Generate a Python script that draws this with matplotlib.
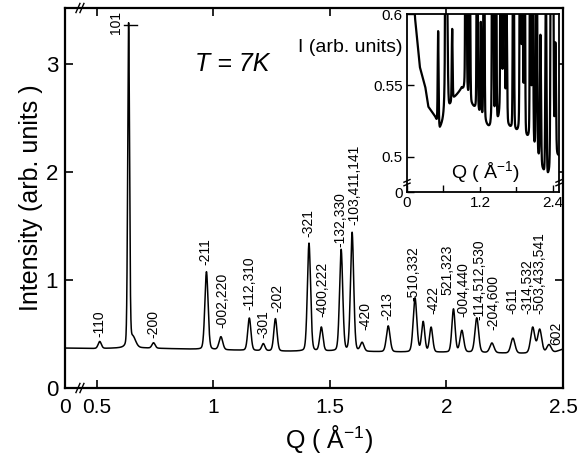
import numpy as np
import matplotlib
matplotlib.use("Agg")
import matplotlib.pyplot as plt

plt.rcParams['font.family'] = ['Liberation Sans', 'DejaVu Sans']
plt.rcParams['mathtext.fontset'] = 'custom'
plt.rcParams['mathtext.rm'] = 'Liberation Sans'

# baseline of the main pattern (Q in 1/A, intensity)
base_q = [0.36, 0.50, 0.62, 0.70, 0.90, 1.10, 1.30, 1.50, 1.70, 1.90, 2.10, 2.30, 2.45, 2.50]
base_i = [0.37, 0.365, 0.37, 0.37, 0.36, 0.35, 0.34, 0.34, 0.335, 0.33, 0.33, 0.32, 0.32, 0.36]

# Bragg peaks: position, height above baseline, width
peak_q = [0.512, 0.636, 0.655, 0.743, 0.970, 1.032, 1.154, 1.214, 1.266, 1.410, 1.463,
          1.548, 1.595, 1.638, 1.750, 1.865, 1.900, 1.934, 2.030, 2.066, 2.130, 2.195,
          2.285, 2.370, 2.400, 2.440]
peak_h = [0.065, 2.99, 0.09, 0.05, 0.72, 0.12, 0.30, 0.065, 0.30, 1.00, 0.22,
          0.94, 1.10, 0.08, 0.24, 0.50, 0.28, 0.23, 0.40, 0.20, 0.32, 0.09,
          0.14, 0.24, 0.22, 0.08]
peak_w = [0.007, 0.004, 0.012, 0.007, 0.007, 0.008, 0.007, 0.007, 0.007, 0.007, 0.007,
          0.007, 0.007, 0.008, 0.008, 0.008, 0.007, 0.007, 0.007, 0.008, 0.008, 0.009,
          0.009, 0.009, 0.009, 0.010]

# reflection labels (text, Q, intensity where the label starts)
lab_txt = ['-110', '-200', '-211', '-002,220', '-112,310', '-301', '-202', '-321',
           '-400,222', '-132,330', '-103,411,141', '-420', '-213', '-510,332', '-422',
           '521,323', '-004,440', '-114,512,530', '-204,600', '-611', '-314,532',
           '-503,433,541', '602']
lab_q = [0.512, 0.743, 0.966, 1.039, 1.154, 1.214, 1.274, 1.407, 1.467, 1.544, 1.604,
         1.651, 1.745, 1.857, 1.942, 2.006, 2.071, 2.140, 2.200, 2.281, 2.345, 2.400, 2.473]
lab_i = [0.47, 0.46, 1.14, 0.56, 0.72, 0.46, 0.70, 1.40, 0.66, 1.31, 1.51,
         0.54, 0.63, 0.81, 0.69, 0.86, 0.66, 0.63, 0.54, 0.69, 0.69, 0.69, 0.40]

# background of the inset (expanded scale)
ins_q = [0.10, 0.13, 0.21, 0.30, 0.35, 0.46, 0.54, 0.65, 0.76, 0.90, 0.98, 1.15, 1.37,
         1.55, 1.75, 2.02, 2.13, 2.30, 2.40, 2.47]
ins_i = [0.62, 0.598, 0.563, 0.549, 0.535, 0.528, 0.519, 0.528, 0.540, 0.547, 0.540,
         0.531, 0.517, 0.522, 0.517, 0.510, 0.500, 0.483, 0.493, 0.500]

q0 = 0.363


def pattern(q, bq, bi):
    y = np.interp(q, bq, bi)
    for p, h, w in zip(peak_q, peak_h, peak_w):
        g = np.exp(-0.5 * ((q - p) / w)**2)
        l = w**2 / ((q - p)**2 + w**2)
        y = y + h * (0.8 * g + 0.2 * l)
    return y


fig = plt.figure(figsize=(5.82, 4.55), dpi=100)
ax = fig.add_axes([65/582, 1-388/455, 498/582, 380/455])

q = np.linspace(q0, 2.5, 6000)
ax.plot(q, pattern(q, base_q, base_i), color='black', lw=1.1)
ax.set_xlim(q0, 2.5)
ax.set_ylim(0, 3.52)

for t, x, y in zip(lab_txt, lab_q, lab_i):
    ax.text(x, y, t, rotation=90, ha='center', va='bottom', fontsize=10)
ax.text(0.58, 3.28, '101', rotation=90, ha='center', va='bottom', fontsize=10)
ax.plot([0.615, 0.67], [3.36, 3.36], color='black', lw=1)

ax.text(0.92, 3.0, 'T = 7K', fontsize=18, style='italic', va='center')

ax.set_xticks([q0, 0.5, 1, 1.5, 2, 2.5])
ax.set_xticklabels(['0', '0.5', '1', '1.5', '2', '2.5'])
ax.set_yticks([0, 1, 2, 3])
ax.tick_params(direction='in', top=True, right=True, length=6, width=1.2)
ax.tick_params(axis='x', labelsize=15, pad=7)
ax.tick_params(axis='y', labelsize=16, pad=5)
for s in ax.spines.values():
    s.set_linewidth(1.6)

ax.set_ylabel('Intensity (arb. units )', fontsize=18, labelpad=2)
ax.set_xlabel(r'Q ( $\mathrm{\AA}^{-1}$)', fontsize=18, va='center')
ax.xaxis.set_label_coords(0.53, -0.135)

# axis break marks
for yb in (0, 1):
    for dx in (0.0, 0.008):
        ax.plot([0.022 + dx, 0.030 + dx], [yb - 0.012, yb + 0.012], transform=ax.transAxes,
                color='black', lw=1, clip_on=False)

# inset
ax2 = fig.add_axes([407/582, 1-192/455, 152/582, 178/455])
qi = np.linspace(0.1, 2.5, 8000)
ax2.plot(qi, pattern(qi, ins_q, ins_i), color='black', lw=1.6)
ax2.set_xlim(0, 2.5)
ax2.set_ylim(0.4755, 0.6)
ax2.set_xticks([0, 0.6, 1.2, 1.8, 2.4])
ax2.set_xticklabels(['0', '', '1.2', '', '2.4'])
ax2.set_yticks([0.4755, 0.5, 0.55, 0.6])
ax2.set_yticklabels(['0', '0.5', '0.55', '0.6'])
ax2.tick_params(direction='in', length=5, width=1, labelsize=11, pad=3)
for s in ax2.spines.values():
    s.set_linewidth(1.3)
ax2.text(0.52, 0.11, r'Q ( $\mathrm{\AA}^{-1}$)', transform=ax2.transAxes, fontsize=14,
         ha='center', va='center',
         bbox=dict(facecolor='white', edgecolor='none', pad=1))
fig.text(403/582, 1-48/455, 'I (arb. units)', fontsize=14, ha='right', va='center')
for xb in (0, 1):
    for dy in (0.0, 0.02):
        ax2.plot([xb - 0.02, xb + 0.02], [0.035 + dy, 0.05 + dy], transform=ax2.transAxes,
                 color='black', lw=1, clip_on=False)

fig.savefig('out.png', dpi=100)
